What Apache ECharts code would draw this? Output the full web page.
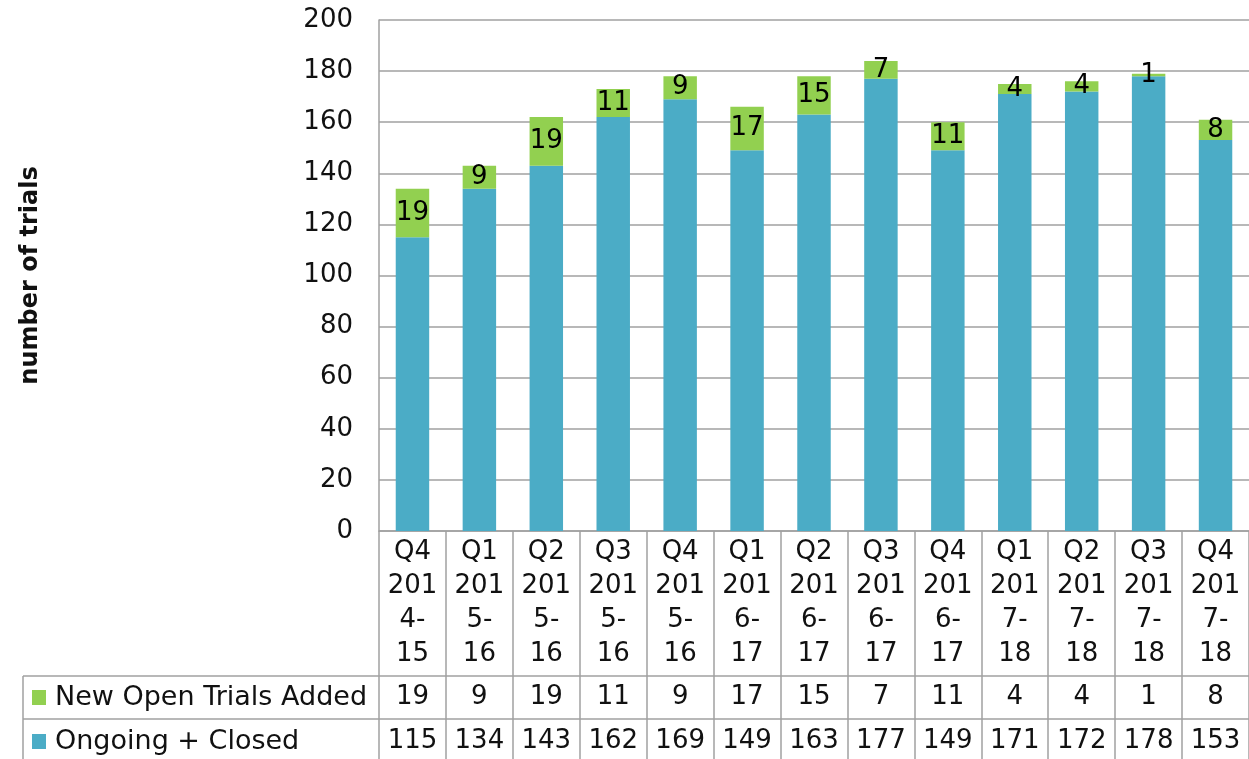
<!DOCTYPE html>
<html>
<head>
<meta charset="utf-8">
<script src="https://cdn.jsdelivr.net/npm/echarts@6/dist/echarts.min.js"></script>
<style>
html,body{margin:0;padding:0;background:#fff;}
#chart{width:1249px;height:759px;}
</style>
</head>
<body>
<div id="chart"></div>
<script>
const categories = ["Q4 2014-15","Q1 2015-16","Q2 2015-16","Q3 2015-16","Q4 2015-16","Q1 2016-17","Q2 2016-17","Q3 2016-17","Q4 2016-17","Q1 2017-18","Q2 2017-18","Q3 2017-18","Q4 2017-18"];
const ongoingClosed = [115,134,143,162,169,149,163,177,149,171,172,178,153];
const newOpenAdded = [19,9,19,11,9,17,15,7,11,4,4,1,8];
const yTicks = {min:0, max:200, interval:20};
const seriesNames = ["New Open Trials Added","Ongoing + Closed"];
const yAxisTitle = "number of trials";

const FONT = "DejaVu Sans";
const LINE = "#a0a0a0";
const BLUE = "#4bacc6";
const GREEN = "#92d050";

function wrapCat(s){
  const parts = s.split(" ");
  const y = parts[1];
  return [parts[0], y.slice(0,3), y.slice(3,5), y.slice(5)].join("\n");
}

const chart = echarts.init(document.getElementById("chart"), null, {renderer:"canvas"});
const tableLeft = 23, gridLeft = 379, gridTop = 20, gridW = 884, gridH = 511;

const legendBase = {
  orient:"horizontal", left:32, padding:0,
  itemWidth:14, itemHeight:15, itemGap:0, icon:"rect",
  textStyle:{fontFamily:FONT, fontSize:27, color:"#111", lineHeight:27, padding:[0,0,0,4]}
};

const option = {
  animation:false,
  textStyle:{fontFamily:FONT},
  grid:[
    {left:gridLeft, top:gridTop, width:gridW, height:gridH},
    {left:gridLeft, top:gridTop+gridH, width:gridW, height:240}
  ],
  legend:[
    Object.assign({}, legendBase, {top:684, data:[seriesNames[0]]}),
    Object.assign({}, legendBase, {top:728, data:[seriesNames[1]]})
  ],
  xAxis:[
    {type:"category", gridIndex:0, data:categories,
     axisLine:{show:true, lineStyle:{color:LINE, width:1.5}},
     axisTick:{show:false},
     axisLabel:{interval:0, margin:4, fontFamily:FONT, fontSize:26, color:"#111", lineHeight:34,
       formatter:(v)=>wrapCat(v)}},
    {type:"category", gridIndex:0, data:categories, position:"bottom", offset:153,
     axisLine:{show:false}, axisTick:{show:false},
     axisLabel:{interval:0, margin:0, fontFamily:FONT, fontSize:26, color:"#111", lineHeight:26,
       formatter:(v,i)=>String(newOpenAdded[i])}},
    {type:"category", gridIndex:0, data:categories, position:"bottom", offset:197,
     axisLine:{show:false}, axisTick:{show:false},
     axisLabel:{interval:0, margin:0, fontFamily:FONT, fontSize:26, color:"#111", lineHeight:26,
       formatter:(v,i)=>String(ongoingClosed[i])}},
    {type:"category", gridIndex:1, data:categories,
     axisLine:{show:false}, axisTick:{show:false}, axisLabel:{show:false},
     splitLine:{show:true, interval:0, lineStyle:{color:LINE, width:1.5}}}
  ],
  yAxis:[
    {type:"value", gridIndex:0, min:yTicks.min, max:yTicks.max, interval:yTicks.interval,
     name:yAxisTitle, nameLocation:"middle", nameRotate:90, nameGap:336,
     nameTextStyle:{fontFamily:FONT, fontSize:24, fontWeight:"bold", color:"#111"},
     axisLine:{show:true, lineStyle:{color:LINE, width:1.5}},
     axisTick:{show:false},
     axisLabel:{margin:26, fontFamily:FONT, fontSize:26, color:"#111"},
     splitLine:{show:true, lineStyle:{color:LINE, width:1.5}}},
    {type:"value", gridIndex:1, show:false}
  ],
  series:[
    {name:seriesNames[1], type:"bar", stack:"t", xAxisIndex:0, yAxisIndex:0,
     data:ongoingClosed, barWidth:"50%", itemStyle:{color:BLUE}},
    {name:seriesNames[0], type:"bar", stack:"t", xAxisIndex:0, yAxisIndex:0,
     data:newOpenAdded, barWidth:"50%", itemStyle:{color:GREEN},
     label:{show:true, position:"inside", fontFamily:FONT, fontSize:26, color:"#000"}}
  ],
  graphic:[
    {type:"line", shape:{x1:tableLeft, y1:676, x2:gridLeft+gridW, y2:676}, style:{stroke:LINE, lineWidth:1.5}},
    {type:"line", shape:{x1:tableLeft, y1:719, x2:gridLeft+gridW, y2:719}, style:{stroke:LINE, lineWidth:1.5}},
    {type:"line", shape:{x1:tableLeft, y1:676, x2:tableLeft, y2:770}, style:{stroke:LINE, lineWidth:1.5}}
  ]
};
chart.setOption(option);
</script>
</body>
</html>
